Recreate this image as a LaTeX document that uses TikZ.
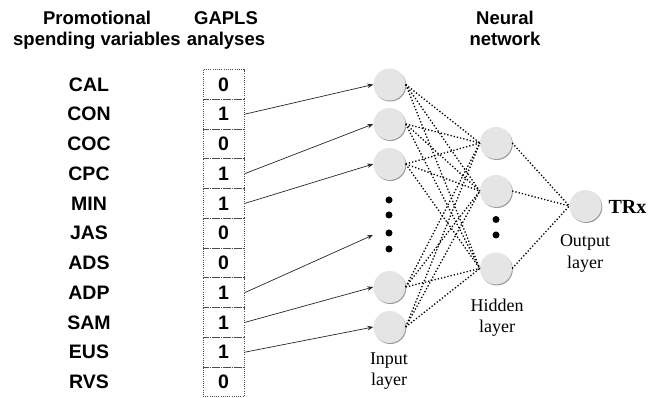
\documentclass[tikz,border=0pt]{standalone}
\usepackage{fontspec}
\setmainfont{Liberation Serif}
\newfontfamily\hv{Liberation Sans}
\usetikzlibrary{arrows.meta}
\tikzset{
  hdr/.style={font=\hv\bfseries\fontsize{18.5}{21}\selectfont, align=center, inner sep=0},
  var/.style={font=\hv\bfseries\fontsize{19.5}{22}\selectfont, inner sep=0},
  cell/.style={draw=black!70, dash pattern=on 1pt off 1.2pt, line width=1pt, minimum width=41pt, minimum height=29.75pt, inner sep=0, font=\hv\bfseries\fontsize{19.5}{22}\selectfont},
  neuron/.style={circle, fill=black!10, minimum size=32pt, inner sep=0},
  shadow/.style={circle, fill=black!40, minimum size=32pt, inner sep=0},
  bigdot/.style={circle, fill=black, minimum size=7pt, inner sep=0},
  lbl/.style={font=\fontsize{18}{21.5}\selectfont, align=center, inner sep=0},
  feed/.style={-{Stealth[length=6pt,width=4.5pt]}, line width=0.7pt, black!85},
  wgt/.style={dotted, line width=1.3pt}
}
\begin{document}
\begin{tikzpicture}[x=1pt,y=-1pt]
\useasboundingbox (0,0) rectangle (657,398);
% headers
\node[hdr] (h-var) at (97,30) {Promotional\\spending variables};
\node[hdr] (h-gap) at (226,30) {GAPLS\\analyses};
\node[hdr] (h-nn) at (505,28) {Neural\\network};
% variables and cells
\foreach \n/\v/\b [count=\k from 0] in {1/CAL/0,2/CON/1,3/COC/0,4/CPC/1,5/MIN/1,6/JAS/0,7/ADS/0,8/ADP/1,9/SAM/1,10/EUS/1,11/RVS/0}{
  \node[var] (v\n) at (89,84.5+29.75*\k) {\v};
  \node[cell] (c\n) at (223.5,84.5+29.75*\k) {\b};
}
% input layer
\foreach \n/\y in {1/84.5,2/124,3/164,4/287,5/327}{
  \node[shadow] (s\n) at (390.3,\y+1) {};
  \node[neuron] (i\n) at (389.5,\y) {};
}
\foreach \n/\y in {1/200,2/215,3/233,4/249}{
  \node[bigdot] (d\n) at (389,\y) {};
}
\coordinate (dots-in) at (373,235);
% hidden layer
\foreach \n/\y in {1/143,2/191,3/268.5}{
  \node[shadow] (sh\n) at (496.8,\y+1) {};
  \node[neuron] (h\n) at (496,\y) {};
}
\node[bigdot] (hd1) at (496,219.5) {};
\node[bigdot] (hd2) at (496,235) {};
% output
\node[shadow] (so) at (586.3,207) {};
\node[neuron] (o) at (585.5,206) {};
\node[font=\bfseries\fontsize{20}{22}\selectfont, inner sep=0] (trx) at (627.5,207) {TRx};
% layer labels
\node[lbl] (l-in) at (389,371) {Input\\layer};
\node[lbl] (l-hid) at (497,317.5) {Hidden\\layer};
\node[lbl] (l-out) at (585,253.5) {Output\\layer};
% feed arrows
\draw[feed] (c2.east) -- (i1.west);
\draw[feed] (c4.east) -- (i2.west);
\draw[feed] (c5.east) -- (i3.west);
\draw[feed] (c8.east) -- (dots-in);
\draw[feed] (c9.east) -- (i4.west);
\draw[feed] (c10.east) -- (i5.west);
% weights
\foreach \i in {1,...,5}{
  \foreach \j in {1,2,3}{
    \draw[wgt] (i\i.east) -- (h\j.west);
  }
}
\foreach \j in {1,2,3}{
  \draw[wgt] (h\j.east) -- (o.west);
}
\end{tikzpicture}
\end{document}
